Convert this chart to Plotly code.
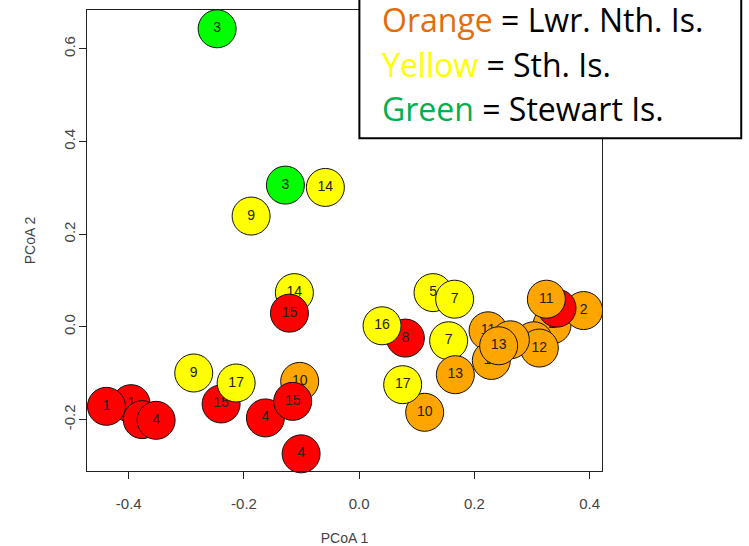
import plotly.graph_objects as go

# ---- data (in drawing order) ----
labels = ["1", "1", "1", "4", "15", "17", "9", "4", "10", "15", "4", "14", "15",
          "3", "3", "14", "9", "8", "16", "10", "17", "5", "7", "7", "13",
          "2", "2", "8", "11", "6", "12", "11", "12", "6", "13"]
groups = ["red", "red", "red", "red", "red", "yellow", "yellow", "red", "orange", "red", "red", "yellow", "red",
          "green", "green", "yellow", "yellow", "red", "yellow", "orange", "yellow", "yellow", "yellow", "yellow", "orange",
          "orange", "orange", "red", "orange", "orange", "orange", "orange", "orange", "orange", "orange"]
pcoa1 = [-0.396, -0.4387, -0.3767, -0.3525, -0.2397, -0.2136, -0.2872, -0.1628, -0.1033, -0.1154, -0.1008, -0.1125, -0.1211,
         -0.2466, -0.1281, -0.0587, -0.1876, 0.0802, 0.0397, 0.1137, 0.0755, 0.1282, 0.1657, 0.1553, 0.1669,
         0.3348, 0.3896, 0.3434, 0.3249, 0.3028, 0.3127, 0.2237, 0.2294, 0.2624, 0.2421]
pcoa2 = [-0.1655, -0.1713, -0.200, -0.2015, -0.1662, -0.121, -0.0994, -0.1963, -0.1175, -0.1606, -0.2738, 0.074, 0.0297,
         0.6431, 0.3059, 0.3009, 0.2391, -0.0241, 0.0024, -0.1842, -0.1246, 0.074, 0.0598, -0.0299, -0.1031,
         0.0045, 0.0353, 0.0405, 0.0598, -0.0299, -0.0456, -0.0084, -0.0723, -0.0278, -0.0407]

xticks = [-0.4, -0.2, 0.0, 0.2, 0.4]
xticktext = ["-0.4", "-0.2", "0.0", "0.2", "0.4"]
yticks = [-0.2, 0.0, 0.2, 0.4, 0.6]
yticktext = ["-0.2", "0.0", "0.2", "0.4", "0.6"]

legend_lines = [("Orange", "#E46C0A", "= Lwr. Nth. Is."),
                ("Yellow", "#FFFF00", "= Sth. Is."),
                ("Green", "#00B050", "= Stewart Is.")]

fill = {"red": "#FF0000", "orange": "#FFA500", "yellow": "#FFFF00", "green": "#00FF00"}

# ---- layout geometry ----
W, H = 749, 546
ML, MR, MT, MB = 86.5, 147.3, 9.5, 74.5
PW, PH = W - ML - MR, H - MT - MB


def px(xp):
    return (xp - ML) / PW


def py(yp):
    return 1 - (yp - MT) / PH


fig = go.Figure()
for lab, g, xv, yv in zip(labels, groups, pcoa1, pcoa2):
    fig.add_trace(go.Scatter(
        x=[xv], y=[yv], mode="markers+text", text=[lab],
        textposition="middle center",
        textfont=dict(family="Liberation Sans, Arial", size=14, color="#222222"),
        marker=dict(size=38, color=fill[g], line=dict(color="#111111", width=1)),
        showlegend=False, hoverinfo="skip", cliponaxis=False))

axis_common = dict(showline=True, linecolor="#222222", linewidth=1, mirror=True,
                   showgrid=False, zeroline=False, ticks="outside", ticklen=7,
                   tickcolor="#222222", tickwidth=1, automargin=False,
                   tickfont=dict(family="Liberation Sans, Arial", size=15, color="#444444"))

fig.update_layout(
    width=W, height=H,
    margin=dict(l=ML, r=MR, t=MT, b=MB, pad=0, autoexpand=False),
    plot_bgcolor="white", paper_bgcolor="white",
    xaxis=dict(range=[-0.4725, 0.4215], tickvals=xticks, ticktext=xticktext,
               ticklabelstandoff=12,
               title=dict(text="PCoA 1", standoff=23,
                          font=dict(family="Liberation Sans, Arial", size=14, color="#444444")),
               **axis_common),
    yaxis=dict(range=[-0.3108, 0.6836], tickvals=yticks, ticktext=yticktext,
               tickangle=-90, ticklabelstandoff=-2,
               title=dict(text="PCoA 2", standoff=22,
                          font=dict(family="Liberation Sans, Arial", size=14, color="#444444")),
               **axis_common),
)

# legend box (drawn over the plot corner)
fig.add_shape(type="rect", xref="paper", yref="paper",
              x0=px(359), x1=px(741), y0=py(138), y1=py(-5),
              line=dict(color="black", width=2), fillcolor="white", layer="above")

line_centers = [19.0, 64.5, 108.5]
for (word, col, rest), yc in zip(legend_lines, line_centers):
    fig.add_annotation(xref="paper", yref="paper", x=px(380), y=py(yc),
                       xanchor="left", yanchor="middle", showarrow=False,
                       text=f"<span style='color:{col}'>{word}</span> {rest}",
                       font=dict(family="Open Sans", size=32, color="black"))

fig.write_html("out.html")
